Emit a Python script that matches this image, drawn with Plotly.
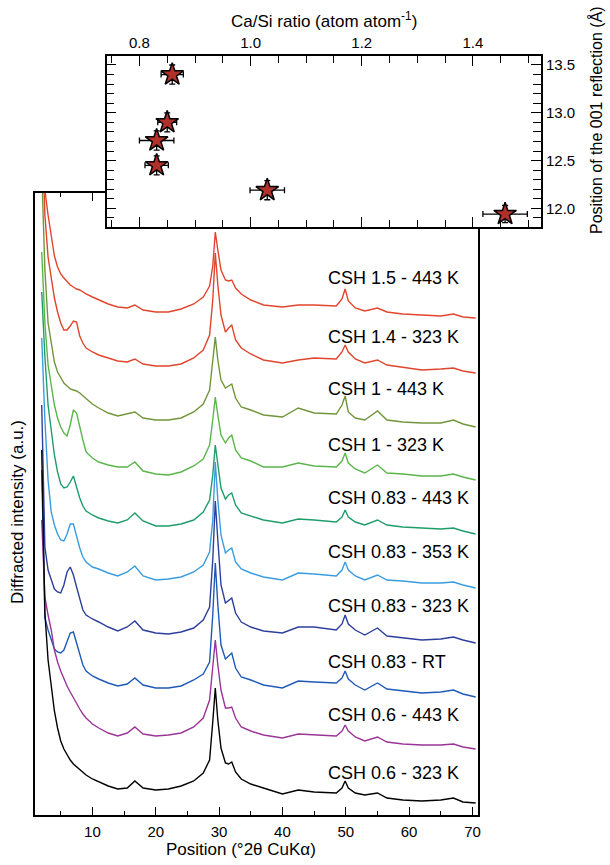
import plotly.graph_objects as go

# ---------------- main XRD panel: data (a.u.) ----------------
TWO_THETA = [2.0, 2.5, 3.0, 3.5, 4.0, 4.5, 5.0, 5.5, 6.0, 6.5,
             7.0, 7.5, 8.0, 8.5, 9.0, 10, 11, 12.5, 14, 15.5,
             16.7, 18, 20, 22, 24, 26, 27.5, 28.5, 29.0, 29.4,
             29.8, 30.3, 31.0, 31.5, 32.0, 32.6, 33.5, 35, 37, 40,
             42.5, 45, 48.5, 49.4, 49.9, 50.4, 51.5, 53, 55, 56.5,
             59, 62, 65, 67, 68.5, 70.5]

CSH_1_5_443K = [715, 625, 600, 577, 559, 548, 541, 537, 533, 530, 528, 526, 525, 523, 521, 518, 515, 511, 508, 507,
                510, 505, 503, 503, 506, 511, 518, 529, 549, 583, 565, 545, 535, 534, 535, 527, 521, 515, 510, 508,
                510, 510, 509, 516, 526, 514, 507, 504, 507, 503, 501, 500, 499, 501, 498, 497]
CSH_1_4_323K = [695, 600, 558, 535, 517, 503, 492, 485, 485, 489, 494, 493, 479, 472, 467, 463, 460, 457, 454, 453,
                456, 451, 449, 449, 451, 457, 465, 480, 515, 562, 530, 500, 483, 487, 490, 475, 467, 461, 455, 452,
                455, 457, 456, 463, 470, 463, 456, 452, 455, 450, 448, 445, 446, 447, 444, 442]
CSH_1_443K = [645, 545, 492, 470, 453, 443, 437, 432, 429, 426, 425, 424, 422, 419, 416, 411, 407, 402, 399, 401,
              403, 397, 395, 395, 397, 403, 411, 425, 455, 478, 455, 435, 427, 429, 431, 417, 408, 405, 400, 398,
              407, 402, 401, 410, 419, 403, 397, 395, 404, 395, 393, 392, 392, 395, 391, 388]
CSH_1_323K = [563, 492, 450, 430, 410, 397, 388, 382, 379, 390, 405, 402, 387, 375, 363, 357, 353, 350, 348, 348,
              353, 344, 341, 340, 343, 349, 356, 370, 395, 418, 400, 380, 372, 377, 380, 365, 357, 354, 348, 348,
              352, 349, 348, 354, 362, 352, 346, 342, 350, 342, 341, 339, 339, 341, 338, 335]
CSH_083_443K = [523, 458, 410, 385, 360, 343, 331, 327, 328, 333, 339, 328, 317, 309, 304, 300, 297, 294, 292, 295,
                302, 294, 289, 289, 291, 295, 303, 315, 340, 370, 350, 327, 316, 320, 322, 310, 302, 299, 295, 292,
                296, 295, 293, 298, 305, 298, 293, 290, 295, 290, 288, 287, 286, 287, 284, 281]
CSH_083_353K = [477, 395, 335, 303, 290, 281, 275, 274, 281, 291, 291, 279, 267, 258, 253, 248, 246, 242, 239, 243,
                249, 239, 235, 236, 238, 243, 250, 263, 295, 353, 315, 280, 262, 265, 267, 253, 246, 242, 238, 235,
                242, 241, 239, 245, 253, 245, 239, 235, 240, 235, 234, 232, 232, 233, 230, 227]
CSH_083_323K = [410, 268, 245, 235, 226, 223, 222, 230, 243, 248, 240, 228, 215, 205, 200, 196, 193, 188, 184, 188,
                194, 185, 182, 181, 183, 187, 195, 208, 255, 314, 275, 230, 212, 215, 217, 202, 193, 188, 184, 182,
                188, 188, 185, 191, 200, 191, 185, 180, 187, 179, 177, 175, 176, 178, 175, 172]
CSH_083_RT = [345, 197, 185, 175, 166, 163, 162, 165, 173, 182, 183, 172, 160, 150, 144, 139, 136, 132, 129, 131,
              137, 130, 127, 127, 129, 135, 141, 153, 200, 252, 210, 170, 156, 159, 162, 147, 138, 135, 130, 127,
              134, 133, 132, 137, 144, 136, 130, 125, 132, 126, 124, 122, 123, 125, 121, 118]
CSH_06_443K = [295, 218, 200, 185, 165, 153, 144, 136, 129, 123, 117, 111, 106, 101, 97, 91, 87, 82, 79, 82,
               88, 81, 79, 80, 82, 88, 97, 115, 147, 175, 150, 125, 107, 107, 108, 97, 88, 84, 80, 77,
               81, 80, 79, 84, 90, 84, 78, 74, 78, 73, 71, 70, 70, 71, 68, 66]
CSH_06_323K = [365, 202, 155, 127, 104, 87, 74, 66, 60, 55, 51, 48, 45, 43, 40, 36, 33, 29, 26, 27,
               34, 27, 25, 26, 29, 34, 42, 55, 93, 127, 95, 67, 52, 51, 53, 43, 36, 31, 27, 21,
               25, 23, 22, 27, 34, 27, 22, 20, 22, 17, 15, 14, 15, 17, 13, 12]

SAMPLE_LABELS = ["CSH 1.5 - 443 K", "CSH 1.4 - 323 K", "CSH 1 - 443 K", "CSH 1 - 323 K",
                 "CSH 0.83 - 443 K", "CSH 0.83 - 353 K", "CSH 0.83 - 323 K", "CSH 0.83 - RT",
                 "CSH 0.6 - 443 K", "CSH 0.6 - 323 K"]
SERIES = [CSH_1_5_443K, CSH_1_4_323K, CSH_1_443K, CSH_1_323K, CSH_083_443K,
          CSH_083_353K, CSH_083_323K, CSH_083_RT, CSH_06_443K, CSH_06_323K]

# ---------------- inset: Ca/Si vs d(001) ----------------
CA_SI = [0.859, 0.850, 0.831, 0.831, 1.030, 1.458]
CA_SI_ERR = [0.020, 0.017, 0.031, 0.021, 0.031, 0.040]
D001 = [13.40, 12.90, 12.71, 12.45, 12.19, 11.94]
D001_ERR = [0.10, 0.10, 0.10, 0.10, 0.10, 0.09]

# ---------------- styling / layout ----------------
COLORS = ["#e3442c", "#e0452d", "#71963a", "#5ab54b", "#1f9d68",
          "#3a9ce0", "#2d3f9c", "#1f5ab9", "#993596", "#000000"]
LABEL_Y = [537, 478, 426, 370, 317, 263, 209, 153, 100, 42]
LABEL_X = 46.8

W, H = 610, 865
FONT = "Liberation Sans, Arial, sans-serif"


def fx(p):
    return p / W


def fy(p):
    return 1 - p / H


fig = go.Figure()
for ys, col in zip(SERIES, COLORS):
    fig.add_trace(go.Scatter(x=TWO_THETA, y=ys, mode="lines",
                             line=dict(color=col, width=1.4),
                             xaxis="x", yaxis="y", showlegend=False, hoverinfo="skip"))

fig.add_trace(go.Scatter(
    x=CA_SI, y=D001, mode="markers", xaxis="x2", yaxis="y2", showlegend=False,
    marker=dict(symbol="star", size=17, color="#b0302a", line=dict(color="black", width=1.5)),
    error_x=dict(type="data", array=CA_SI_ERR, color="black", thickness=1.3, width=3),
    error_y=dict(type="data", array=D001_ERR, color="black", thickness=1.3, width=3),
))

annotations = []
for lab, yv in zip(SAMPLE_LABELS, LABEL_Y):
    annotations.append(dict(x=LABEL_X, y=yv, xref="x", yref="y", text=lab, showarrow=False,
                            xanchor="left", yanchor="middle", font=dict(size=18, color="black", family=FONT)))

annotations += [
    dict(x=fx(242), y=fy(849), xref="paper", yref="paper", text="Position (°2θ CuKα)",
         showarrow=False, xanchor="center", yanchor="middle", font=dict(size=17, color="black", family=FONT)),
    dict(x=fx(17), y=fy(512), xref="paper", yref="paper", text="Diffracted intensity (a.u.)",
         showarrow=False, textangle=-90, xanchor="center", yanchor="middle",
         font=dict(size=17, color="black", family=FONT)),
    dict(x=fx(325), y=fy(20), xref="paper", yref="paper", text="Ca/Si ratio (atom atom<sup>-1</sup>)",
         showarrow=False, xanchor="center", yanchor="middle", font=dict(size=17, color="black", family=FONT)),
    dict(x=fx(598), y=fy(120), xref="paper", yref="paper", text="Position of the 001 reflection (Å)",
         showarrow=False, textangle=-90, xanchor="center", yanchor="middle",
         font=dict(size=16, color="black", family=FONT)),
]

axis_common = dict(showline=True, linecolor="black", linewidth=1.5, showgrid=False, zeroline=False,
                   tickcolor="black", tickwidth=1.3, tickfont=dict(size=15, color="black", family=FONT))

fig.update_layout(
    width=W, height=H, margin=dict(l=0, r=0, t=0, b=0),
    paper_bgcolor="white", plot_bgcolor="white",
    font=dict(family=FONT, color="black"),
    xaxis=dict(domain=[fx(35), fx(480)], range=[0.92, 70.94], anchor="y",
               ticks="inside", ticklen=8, dtick=10, tick0=0, mirror="ticks",
               minor=dict(dtick=5, tick0=0, ticks="inside", ticklen=4, tickcolor="black", tickwidth=1.3),
               ticklabelstandoff=2, **axis_common),
    yaxis=dict(domain=[fy(815), fy(193)], range=[0, 622], anchor="x",
               ticks="", showticklabels=False, mirror=True, **axis_common),
    xaxis2=dict(domain=[fx(107), fx(543)], range=[0.741, 1.523], anchor="y2", side="top",
                ticks="inside", ticklen=10, dtick=0.2, tick0=0, tickformat=".1f", mirror="ticks",
                minor=dict(dtick=0.05, tick0=0, ticks="inside", ticklen=7, tickcolor="black", tickwidth=1.3),
                **axis_common),
    yaxis2=dict(domain=[fy(227), fy(56)], range=[11.805, 13.594], anchor="x2", side="right",
                ticks="inside", ticklen=10, dtick=0.5, tick0=0, tickformat=".1f", mirror="ticks",
                minor=dict(dtick=0.1, tick0=0, ticks="inside", ticklen=8, tickcolor="black", tickwidth=1.3),
                **axis_common),
    annotations=annotations,
)

fig.write_html("out.html", config={"displayModeBar": False},
               post_script="document.body.style.margin='0px';")
